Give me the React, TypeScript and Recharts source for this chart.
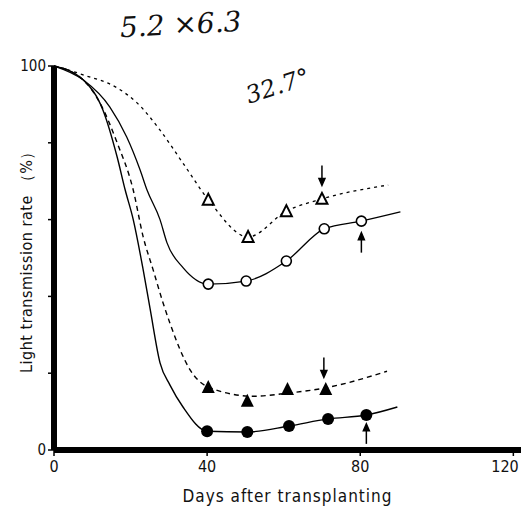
import React from 'react';
import {
  ComposedChart,
  Line,
  Scatter,
  XAxis,
  YAxis,
  Label,
} from 'recharts';

// days after transplanting / light transmission rate (%)
const openTriCurve = [
  { x: 0, y: 100 }, { x: 1.6, y: 99.6 }, { x: 7.6, y: 97.7 }, { x: 16.5, y: 94.3 },
  { x: 21.7, y: 90.4 }, { x: 27.7, y: 83.3 }, { x: 33.7, y: 74.7 }, { x: 40.3, y: 65.2 },
  { x: 50.7, y: 55.5 }, { x: 60.7, y: 62.2 }, { x: 70, y: 65.4 }, { x: 87.3, y: 69 },
];
const openTriMarks = [
  { x: 40.3, y: 65.2 }, { x: 50.7, y: 55.5 }, { x: 60.7, y: 62.2 }, { x: 70, y: 65.4 },
];

const openCircCurve = [
  { x: 0, y: 100 }, { x: 7.6, y: 96.4 }, { x: 14.6, y: 89.3 }, { x: 19, y: 81.5 },
  { x: 22.5, y: 72.9 }, { x: 24.3, y: 67.7 }, { x: 27.7, y: 60 }, { x: 29.5, y: 54 },
  { x: 33.7, y: 47.5 }, { x: 40.3, y: 43.2 }, { x: 50.2, y: 44 }, { x: 60.7, y: 49.2 },
  { x: 70.6, y: 57.6 }, { x: 80.3, y: 59.6 }, { x: 90.5, y: 62 },
];
const openCircMarks = [
  { x: 40.3, y: 43.2 }, { x: 50.2, y: 44 }, { x: 60.7, y: 49.2 }, { x: 70.6, y: 57.6 },
  { x: 80.3, y: 59.6 },
];

const fillTriCurve = [
  { x: 0, y: 100 }, { x: 7.6, y: 96.4 }, { x: 12, y: 90.4 }, { x: 16.5, y: 80 },
  { x: 20.7, y: 67.7 }, { x: 23.3, y: 55.5 }, { x: 25.9, y: 46.9 }, { x: 28.5, y: 38.3 },
  { x: 30.3, y: 33 }, { x: 35.6, y: 20.8 }, { x: 40.3, y: 16.4 }, { x: 52, y: 14 },
  { x: 61, y: 14.8 }, { x: 71, y: 16.2 }, { x: 87, y: 20.5 },
];
const fillTriMarks = [
  { x: 40.3, y: 16.4 }, { x: 50.5, y: 12.8 }, { x: 61, y: 15.9 }, { x: 71, y: 15.9 },
];

const fillCircCurve = [
  { x: 0, y: 100 }, { x: 7.6, y: 96.4 }, { x: 12.8, y: 88.5 }, { x: 16.5, y: 76.3 },
  { x: 18.6, y: 67.7 }, { x: 20.7, y: 60 }, { x: 23.3, y: 46.9 }, { x: 25.1, y: 36.8 },
  { x: 27.7, y: 22.7 }, { x: 30.3, y: 16.9 }, { x: 33.7, y: 11.2 }, { x: 40, y: 4.9 },
  { x: 50.5, y: 4.7 }, { x: 61.4, y: 6.25 }, { x: 71.6, y: 8.1 }, { x: 81.6, y: 9.1 },
  { x: 89.7, y: 11.2 },
];
const fillCircMarks = [
  { x: 40, y: 4.9 }, { x: 50.5, y: 4.7 }, { x: 61.4, y: 6.25 }, { x: 71.6, y: 8.1 },
  { x: 81.6, y: 9.1 },
];

const arrowsDown = [{ x: 70, y: 71.5 }, { x: 70.5, y: 21.5 }];
const arrowsUp = [{ x: 80.3, y: 54 }, { x: 81.6, y: 4.2 }];

const xTicks = [0, 40, 80, 120];
const yTicks = [0, 20, 40, 60, 80, 100];

const FONT = "'DejaVu Sans Condensed', 'DejaVu Sans', sans-serif";

const OpenCircle = (p: any) => (
  <circle cx={p.cx} cy={p.cy} r={5} fill="#fff" stroke="#000" strokeWidth={1.6} />
);
const FilledCircle = (p: any) => <circle cx={p.cx} cy={p.cy} r={6} fill="#000" />;
const OpenTri = (p: any) => (
  <path
    d={`M${p.cx},${p.cy - 6} L${p.cx + 5.5},${p.cy + 5} L${p.cx - 5.5},${p.cy + 5} Z`}
    fill="#fff"
    stroke="#000"
    strokeWidth={2}
  />
);
const FilledTri = (p: any) => (
  <path
    d={`M${p.cx},${p.cy - 7} L${p.cx + 6.5},${p.cy + 6} L${p.cx - 6.5},${p.cy + 6} Z`}
    fill="#000"
  />
);
const ArrowDown = (p: any) => (
  <g stroke="#000" strokeWidth={1.5} fill="#000">
    <line x1={p.cx} y1={p.cy - 10} x2={p.cx} y2={p.cy + 6} />
    <path d={`M${p.cx - 3},${p.cy + 3} L${p.cx + 3},${p.cy + 3} L${p.cx},${p.cy + 10} Z`} />
  </g>
);
const ArrowUp = (p: any) => (
  <g stroke="#000" strokeWidth={1.5} fill="#000">
    <line x1={p.cx} y1={p.cy + 10} x2={p.cx} y2={p.cy - 6} />
    <path d={`M${p.cx - 3},${p.cy - 3} L${p.cx + 3},${p.cy - 3} L${p.cx},${p.cy - 10} Z`} />
  </g>
);

// the last tick sits on the right edge, pull it in a little so it stays visible
const XTick = (p: any) => {
  const v = p.payload.value;
  const dx = v === 120 ? -4 : 0;
  return (
    <text x={p.x + dx} y={p.y + 14} textAnchor="middle" fill="#111" fontSize={16} fontFamily={FONT}>
      {v}
    </text>
  );
};

export default function App() {
  return (
    <div style={{ position: 'relative', width: 521, height: 507, background: '#fff' }}>
      <style>{'body{margin:0}'}</style>
      <ComposedChart
        width={521}
        height={507}
        margin={{ top: 66, right: 0, bottom: 0, left: 0 }}
      >
        <XAxis
          type="number"
          dataKey="x"
          domain={[0, 122]}
          ticks={xTicks}
          allowDataOverflow
          height={57}
          tickSize={6}
          axisLine={{ stroke: '#000', strokeWidth: 6 }}
          tickLine={{ stroke: '#000', strokeWidth: 1.5 }}
          tick={<XTick />}
        >
          <Label
            value="Days after transplanting"
            position="insideBottom"
            offset={5}
            style={{ fill: '#111', fontSize: 17, fontFamily: FONT, letterSpacing: 1 }}
          />
        </XAxis>
        <YAxis
          type="number"
          dataKey="y"
          domain={[0, 100]}
          ticks={yTicks}
          width={54}
          tickSize={6}
          tickFormatter={(v: number) => (v === 0 || v === 100 ? String(v) : '')}
          axisLine={{ stroke: '#000', strokeWidth: 6 }}
          tickLine={{ stroke: '#000', strokeWidth: 1.5 }}
          tick={{ fill: '#111', fontSize: 15, fontFamily: FONT }}
        >
          <Label
            value="Light transmission rate （%）"
            angle={-90}
            position="center"
            dx={-1}
            style={{ fill: '#111', fontSize: 16, fontFamily: FONT, letterSpacing: 0.5 }}
          />
        </YAxis>

        <Line data={openTriCurve} dataKey="y" type="monotone" stroke="#000" strokeWidth={1.3}
          strokeDasharray="3 4" dot={false} isAnimationActive={false} />
        <Line data={openCircCurve} dataKey="y" type="monotone" stroke="#000" strokeWidth={1.3}
          dot={false} isAnimationActive={false} />
        <Line data={fillTriCurve} dataKey="y" type="monotone" stroke="#000" strokeWidth={1.4}
          strokeDasharray="5 4" dot={false} isAnimationActive={false} />
        <Line data={fillCircCurve} dataKey="y" type="monotone" stroke="#000" strokeWidth={1.4}
          dot={false} isAnimationActive={false} />

        <Scatter data={openTriMarks} dataKey="y" shape={OpenTri} isAnimationActive={false} />
        <Scatter data={openCircMarks} dataKey="y" shape={OpenCircle} isAnimationActive={false} />
        <Scatter data={fillTriMarks} dataKey="y" shape={FilledTri} isAnimationActive={false} />
        <Scatter data={fillCircMarks} dataKey="y" shape={FilledCircle} isAnimationActive={false} />
        <Scatter data={arrowsDown} dataKey="y" shape={ArrowDown} isAnimationActive={false} />
        <Scatter data={arrowsUp} dataKey="y" shape={ArrowUp} isAnimationActive={false} />
      </ComposedChart>

      {/* handwritten notes on the scan */}
      <div
        style={{
          position: 'absolute', left: 120, top: 8, fontSize: 28, fontStyle: 'italic',
          fontFamily: "'DejaVu Serif', serif", color: '#111', transform: 'rotate(-3deg)',
        }}
      >
        5.2 ×6.3
      </div>
      <div
        style={{
          position: 'absolute', left: 245, top: 72, fontSize: 24, fontStyle: 'italic',
          fontFamily: "'DejaVu Serif', serif", color: '#111', transform: 'rotate(-18deg)',
        }}
      >
        32.7°
      </div>
    </div>
  );
}
